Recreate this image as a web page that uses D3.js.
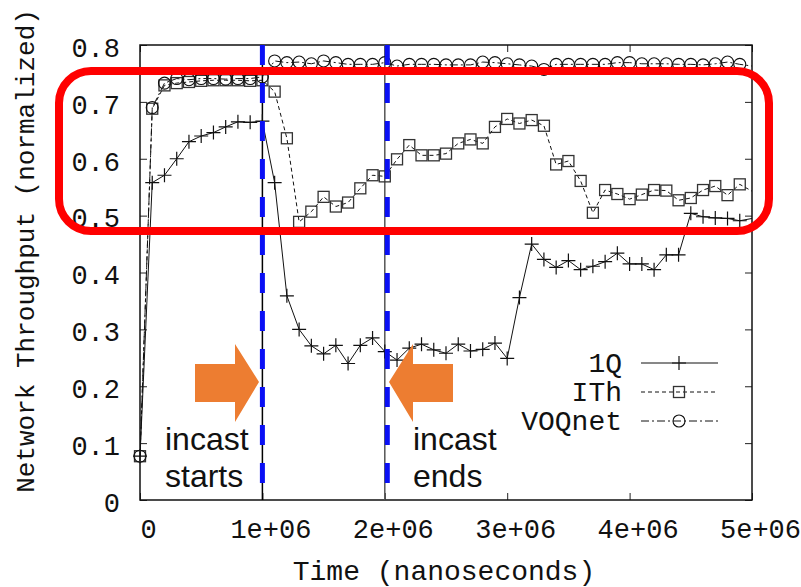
<!DOCTYPE html>
<html>
<head>
<meta charset="utf-8">
<script src="https://cdn.jsdelivr.net/npm/d3@7"></script>
<style>
  body { margin: 0; background: #fff; }
  text { font-family: "Liberation Mono", "DejaVu Sans Mono", monospace; }
</style>
</head>
<body>
<script>
// time in units of 1e6 ns
const times = [0, 0.1, 0.2, 0.3, 0.4, 0.5, 0.6, 0.7, 0.8, 0.9, 1.0,
  1.1, 1.2, 1.3, 1.4, 1.5, 1.6, 1.7, 1.8, 1.9, 2.0,
  2.1, 2.2, 2.3, 2.4, 2.5, 2.6, 2.7, 2.8, 2.9, 3.0,
  3.1, 3.2, 3.3, 3.4, 3.5, 3.6, 3.7, 3.8, 3.9, 4.0,
  4.1, 4.2, 4.3, 4.4, 4.5, 4.6, 4.7, 4.8, 4.9, 5.0];

const q1 = [0.077, 0.558, 0.571, 0.600, 0.630, 0.640, 0.646, 0.656, 0.665, 0.664, 0.666,
  0.558, 0.359, 0.300, 0.271, 0.257, 0.272, 0.240, 0.272, 0.285, 0.261,
  0.246, 0.267, 0.274, 0.264, 0.258, 0.274, 0.262, 0.265, 0.276, 0.249,
  0.356, 0.450, 0.423, 0.409, 0.421, 0.405, 0.411, 0.419, 0.434, 0.415,
  0.415, 0.405, 0.431, 0.431, 0.504, 0.498, 0.496, 0.495, 0.491, 0.495];

const ith = [0.077, 0.688, 0.729, 0.733, 0.735, 0.737, 0.738, 0.738, 0.738, 0.737, 0.738,
  0.718, 0.636, 0.489, 0.507, 0.533, 0.516, 0.523, 0.548, 0.571, 0.569,
  0.599, 0.624, 0.606, 0.606, 0.609, 0.627, 0.634, 0.627, 0.656, 0.670,
  0.662, 0.668, 0.658, 0.590, 0.596, 0.561, 0.505, 0.545, 0.538, 0.529,
  0.537, 0.545, 0.544, 0.527, 0.531, 0.545, 0.552, 0.536, 0.555, 0.543];

const voq = [0.077, 0.690, 0.733, 0.741, 0.739, 0.741, 0.741, 0.740, 0.741, 0.741, 0.744,
  0.772, 0.769, 0.770, 0.767, 0.772, 0.769, 0.766, 0.766, 0.766, 0.769,
  0.763, 0.766, 0.766, 0.766, 0.765, 0.765, 0.765, 0.770, 0.769, 0.767,
  0.765, 0.763, 0.757, 0.766, 0.766, 0.766, 0.766, 0.766, 0.769, 0.769,
  0.767, 0.767, 0.767, 0.766, 0.766, 0.765, 0.767, 0.770, 0.766, 0.763];

const xTicks = [0, 1, 2, 3, 4, 5];
const xTickLabels = ['0', '1e+06', '2e+06', '3e+06', '4e+06', '5e+06'];
const yTicks = [0, 0.1, 0.2, 0.3, 0.4, 0.5, 0.6, 0.7, 0.8];
const yTickLabels = ['0', '0.1', '0.2', '0.3', '0.4', '0.5', '0.6', '0.7', '0.8'];
const seriesNames = ['1Q', 'ITh', 'VOQnet'];
const incastTimes = [1, 2];

const W = 801, H = 587;
const box = { left: 140, right: 752, top: 45, bottom: 500 };

const svg = d3.select('body').append('svg')
  .attr('width', W)
  .attr('height', H);

const x = d3.scaleLinear().domain([0, 5]).range([box.left, box.right]);
const y = d3.scaleLinear().domain([0, 0.8]).range([box.bottom, box.top]);

svg.append('clipPath').attr('id', 'plot')
  .append('rect')
  .attr('x', box.left).attr('y', box.top)
  .attr('width', box.right - box.left).attr('height', box.bottom - box.top);

// axes with inward ticks, mirrored on top/right
const tickLen = 7;
svg.append('g')
  .attr('transform', `translate(0,${box.bottom})`)
  .call(d3.axisBottom(x).tickValues(xTicks).tickSizeInner(-tickLen).tickSizeOuter(0).tickFormat((d, i) => xTickLabels[i]))
  .call(g => g.select('.domain').remove())
  .call(g => g.selectAll('text').attr('dy', 0).attr('y', 38).attr('dx', 8)
    .style('font-size', '27px').style('font-family', '"Liberation Mono", monospace').attr('fill', '#111'));

svg.append('g')
  .attr('transform', `translate(0,${box.top})`)
  .call(d3.axisTop(x).tickValues(xTicks).tickSizeInner(-tickLen).tickSizeOuter(0).tickFormat(''))
  .call(g => g.select('.domain').remove());

svg.append('g')
  .attr('transform', `translate(${box.left},0)`)
  .call(d3.axisLeft(y).tickValues(yTicks).tickSizeInner(-tickLen).tickSizeOuter(0).tickFormat((d, i) => yTickLabels[i]))
  .call(g => g.select('.domain').remove())
  .call(g => g.selectAll('text').attr('x', -20).attr('dy', '0.42em')
    .style('font-size', '27px').style('font-family', '"Liberation Mono", monospace').attr('fill', '#111'));

svg.append('g')
  .attr('transform', `translate(${box.right},0)`)
  .call(d3.axisRight(y).tickValues(yTicks).tickSizeInner(-tickLen).tickSizeOuter(0).tickFormat(''))
  .call(g => g.select('.domain').remove());

svg.selectAll('.tick line').attr('stroke', '#222');

// frame
svg.append('rect')
  .attr('x', box.left).attr('y', box.top)
  .attr('width', box.right - box.left).attr('height', box.bottom - box.top)
  .attr('fill', 'none')
  .attr('stroke', '#111')
  .attr('stroke-width', 1.5);

// axis titles
svg.append('text')
  .attr('x', 444)
  .attr('y', 580)
  .attr('text-anchor', 'middle')
  .style('font-size', '28px')
  .attr('fill', '#111')
  .text('Time (nanoseconds)');

svg.append('text')
  .attr('transform', 'translate(34,251) rotate(-90)')
  .attr('text-anchor', 'middle')
  .style('font-size', '26px')
  .attr('fill', '#111')
  .text('Network Throughput (normalized)');

// incast marker lines
svg.selectAll('.thin')
  .data(incastTimes)
  .enter().append('line')
  .attr('x1', d => x(d)).attr('x2', d => x(d))
  .attr('y1', box.top).attr('y2', box.bottom)
  .attr('stroke', (d, i) => i === 0 ? '#000' : '#555')
  .attr('stroke-width', 1.5);

const plot = svg.append('g').attr('clip-path', 'url(#plot)');
const markLayer = svg.append('g');

const series = [
  { name: seriesNames[0], values: q1, dash: null, marker: 'plus' },
  { name: seriesNames[1], values: ith, dash: '4,3', marker: 'square' },
  { name: seriesNames[2], values: voq, dash: '8,3,2,3', marker: 'circle' }
];

const line = d3.line()
  .x((d, i) => x(times[i]))
  .y(d => y(d));

function drawMarker(g, type, cx, cy) {
  if (type === 'plus') {
    g.append('path')
      .attr('d', `M${cx - 7},${cy}H${cx + 7}M${cx},${cy - 7}V${cy + 7}`)
      .attr('stroke', '#111').attr('stroke-width', 1.2).attr('fill', 'none');
  } else if (type === 'square') {
    g.append('rect')
      .attr('x', cx - 5.5).attr('y', cy - 5.5)
      .attr('width', 11).attr('height', 11)
      .attr('fill', 'none').attr('stroke', '#333').attr('stroke-width', 1.3);
  } else {
    g.append('circle')
      .attr('cx', cx).attr('cy', cy).attr('r', 6)
      .attr('fill', 'none').attr('stroke', '#111').attr('stroke-width', 1.1);
  }
}

series.forEach(s => {
  plot.append('path')
    .datum(s.values)
    .attr('d', line)
    .attr('fill', 'none')
    .attr('stroke', '#111')
    .attr('stroke-width', 1)
    .attr('stroke-dasharray', s.dash);
  // the point sitting on the right border carries no marker in the reference
  s.values.forEach((v, i) => {
    if (times[i] < 5) drawMarker(markLayer, s.marker, x(times[i]), y(v));
  });
});

// blue dashed incast lines
svg.selectAll('.blue')
  .data(incastTimes)
  .enter().append('line')
  .attr('x1', (d, i) => x(d) + (i === 0 ? 0 : 2.5))
  .attr('x2', (d, i) => x(d) + (i === 0 ? 0 : 2.5))
  .attr('y1', box.top).attr('y2', box.bottom)
  .attr('stroke', '#0a10f5')
  .attr('stroke-width', 5)
  .attr('stroke-dasharray', '20,18');

// legend
const legend = svg.append('g');
series.forEach((s, i) => {
  const ly = 363 + i * 29;
  legend.append('text')
    .attr('x', 622).attr('y', ly + 9)
    .attr('text-anchor', 'end')
    .style('font-size', '28px')
    .attr('fill', '#111')
    .text(s.name);
  legend.append('line')
    .attr('x1', 641).attr('x2', 718)
    .attr('y1', ly).attr('y2', ly)
    .attr('stroke', '#111').attr('stroke-width', 1)
    .attr('stroke-dasharray', s.dash);
  drawMarker(legend, s.marker, 679, ly);
});

// orange arrows
const orange = '#ED7D31';
svg.append('path')
  .attr('d', 'M195,364H235V344L259,382L235,422V402H195Z')
  .attr('fill', orange);
svg.append('path')
  .attr('d', 'M453,364H413V344L389,382L413,422V402H453Z')
  .attr('fill', orange);

// annotations
const ann = [
  { x: 165, lines: ['incast', 'starts'] },
  { x: 413, lines: ['incast', 'ends'] }
];
ann.forEach(a => {
  a.lines.forEach((t, i) => {
    svg.append('text')
      .attr('x', a.x).attr('y', 450 + i * 37)
      .style('font-family', '"Liberation Sans", Arial, sans-serif')
      .style('font-size', '32px')
      .attr('fill', '#111')
      .text(t);
  });
});

// red highlight box
svg.append('rect')
  .attr('x', 59).attr('y', 71)
  .attr('width', 710).attr('height', 160)
  .attr('rx', 32).attr('ry', 32)
  .attr('fill', 'none')
  .attr('stroke', '#ff0000')
  .attr('stroke-width', 8);
</script>
</body>
</html>
